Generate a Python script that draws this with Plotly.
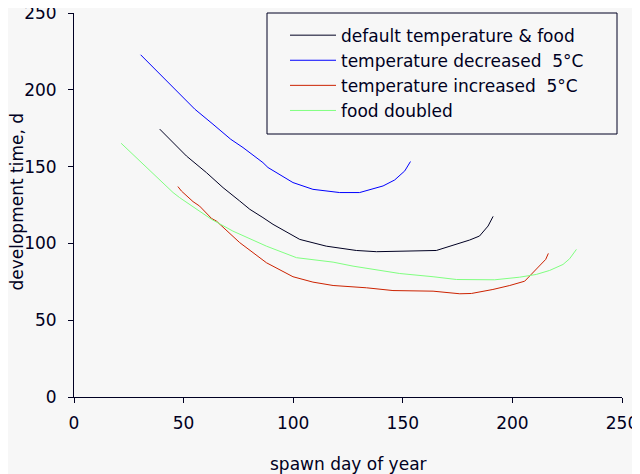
import plotly.graph_objects as go

# development time (d) against spawn day
default_day = [39.1, 43.7, 51.3, 60.4, 68.0, 75.6, 80.2, 86.2, 90.8, 103.0,
               115.1, 128.8, 138.0, 165.3, 172.9, 180.5, 185.0, 188.9, 191.2]
default_dev = [174.4, 167.8, 156.9, 146.1, 136.3, 127.6, 122.2, 116.8, 112.4, 102.6,
               98.2, 95.4, 94.6, 95.4, 98.7, 102.2, 104.8, 111.3, 117.6]

cold_day = [30.4, 55.1, 63.4, 71.5, 77.1, 86.2, 88.5, 99.9, 109.0, 121.2,
            130.3, 141.0, 146.3, 150.9, 153.5]
cold_dev = [222.8, 187.4, 177.6, 167.8, 162.4, 152.6, 149.4, 139.6, 135.2, 133.1,
            133.1, 137.4, 141.3, 147.2, 153.3]

warm_day = [47.4, 49.0, 54.3, 57.3, 62.7, 65.0, 75.6, 87.8, 99.9, 109.0, 118.2,
            133.4, 145.5, 163.8, 176.0, 181.3, 191.1, 198.8, 205.6, 208.7, 212.5,
            215.2, 216.4]
warm_dev = [137.0, 134.1, 127.2, 124.3, 116.3, 114.5, 100.5, 87.4, 78.3, 74.8, 72.6,
            71.1, 69.3, 68.9, 67.2, 67.4, 70.0, 72.6, 75.4, 79.8, 85.2,
            89.6, 93.5]

food_day = [21.5, 30.0, 42.2, 45.2, 48.2, 60.4, 62.7, 72.5, 87.8, 101.5, 118.2,
            127.3, 148.6, 163.8, 174.5, 191.9, 203.3, 210.9, 217.0, 223.1, 226.1, 229.2]
food_dev = [165.2, 153.7, 137.4, 133.1, 129.8, 117.8, 115.7, 108.0, 98.2, 90.7, 87.8,
            85.2, 80.4, 78.3, 76.5, 76.3, 78.0, 79.8, 82.4, 86.3, 90.0, 96.1]

names = ['default temperature & food', 'temperature decreased  5°C',
         'temperature increased  5°C', 'food doubled']
colors = ['#000022', '#0000ff', '#cc2200', '#80ff80']

ink = '#000022'
bg = '#f7f7f7'
font = 'DejaVu Sans'

fig = go.Figure()
series = [(default_day, default_dev), (cold_day, cold_dev),
          (warm_day, warm_dev), (food_day, food_dev)]
for (x, y), name, c in zip(series, names, colors):
    fig.add_trace(go.Scatter(x=x, y=y, mode='lines', name=name,
                             line=dict(color=c, width=1)))

axis = dict(showline=True, linecolor=ink, linewidth=1, showgrid=False,
            zeroline=False, ticks='outside', ticklen=5, tickcolor=ink,
            tickfont=dict(family=font, size=17, color=ink),
            range=[0, 250], dtick=50, automargin=False,
            ticklabeloverflow='allow')

# the page body adds an 8 px offset, so the figure is 8 px smaller than the window
fig.update_layout(
    width=632, height=466,
    margin=dict(l=66, r=18, t=5, b=77),
    paper_bgcolor=bg, plot_bgcolor=bg,
    font=dict(family=font, size=17, color=ink),
    xaxis=dict(axis, ticklabelstandoff=6),
    yaxis=dict(axis, ticklabelstandoff=8),
    showlegend=True,
    legend=dict(x=(285 - 74) / 548, y=0.988, xanchor='left', yanchor='top',
                itemwidth=46,
                bgcolor='rgba(0,0,0,0)', borderwidth=0,
                font=dict(family=font, size=17, color=ink)),
    annotations=[
        dict(text='spawn day of year', xref='paper', yref='paper',
             x=0.5, y=-0.174, showarrow=False, xanchor='center', yanchor='middle',
             font=dict(family=font, size=17, color=ink)),
        dict(text='development time, d', xref='paper', yref='paper',
             x=-0.104, y=0.509, showarrow=False, textangle=-90,
             xanchor='center', yanchor='middle',
             font=dict(family=font, size=17, color=ink)),
    ],
    shapes=[dict(type='rect', xref='paper', yref='paper',
                 x0=(267 - 74) / 548, x1=(617 - 74) / 548,
                 y0=(397 - 134) / 384, y1=(397 - 13) / 384,
                 line=dict(color=ink, width=1), fillcolor='rgba(0,0,0,0)')],
)

fig.write_html("out.html")
